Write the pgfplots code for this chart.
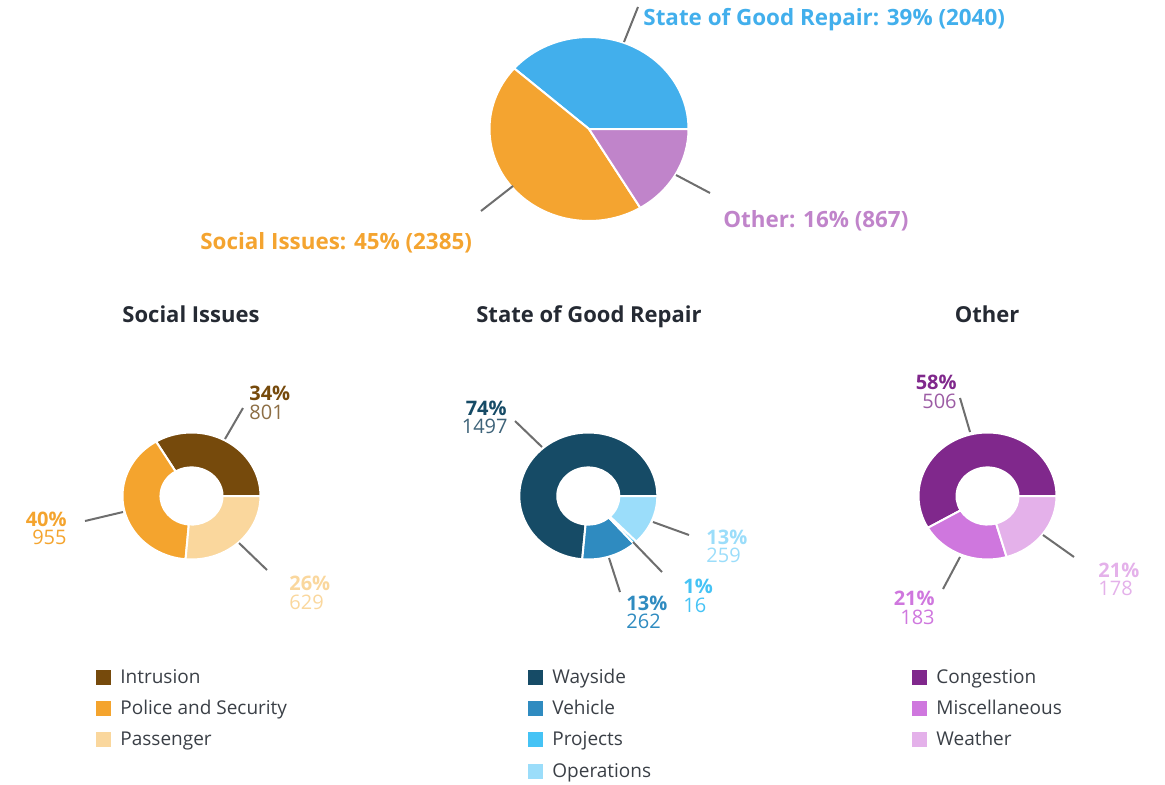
\documentclass[border=0pt]{standalone}
\usepackage{pgfplots}
\pgfplotsset{compat=1.18}
\usepackage{fontspec}
\setmainfont{Open Sans}

\definecolor{cSGR}{HTML}{42AFEC}
\definecolor{cSoc}{HTML}{F4A430}
\definecolor{cOth}{HTML}{C084CA}
\definecolor{cIntr}{HTML}{764A0C}
\definecolor{cPol}{HTML}{F4A42E}
\definecolor{cPas}{HTML}{FAD79D}
\definecolor{cWay}{HTML}{164B66}
\definecolor{cVeh}{HTML}{2F8BC0}
\definecolor{cPro}{HTML}{45C3F5}
\definecolor{cOpe}{HTML}{9BDDFA}
\definecolor{cCon}{HTML}{80288C}
\definecolor{cMis}{HTML}{CF77DE}
\definecolor{cWea}{HTML}{E4B1EA}
\definecolor{nIntr}{HTML}{8D6E45}
\definecolor{nWay}{HTML}{3E6379}
\definecolor{nCon}{HTML}{9C5CA4}
\definecolor{titlec}{HTML}{252A33}
\definecolor{legc}{HTML}{3A3F46}
\definecolor{leader}{HTML}{6E6E6E}

% data: value/colour
\def\topdata{2040/cSGR,2385/cSoc,867/cOth}
\def\socdata{801/cIntr,955/cPol,629/cPas}
\def\sgrdata{1497/cWay,262/cVeh,16/cPro,259/cOpe}
\def\othdata{506/cCon,183/cMis,178/cWea}

% #1 cx, #2 cy, #3 rx, #4 ry, #5 inner fraction (0 = pie), #6 data list macro
\newcommand\donut[6]{%
  \gdef\dtot{0}%
  \foreach \vv/\cc in #6{\pgfmathsetmacro\dtmp{\dtot+\vv}\global\let\dtot\dtmp}%
  \gdef\dcum{0}%
  \pgfmathsetmacro\rxo{#3*0.5}\pgfmathsetmacro\ryo{#4*0.5}%
  \pgfmathsetmacro\rxi{#3*#5*0.5}\pgfmathsetmacro\ryi{#4*#5*0.5}%
  \foreach \vv/\cc in #6{%
    \pgfmathsetmacro\dA{\dcum/\dtot*360}%
    \pgfmathsetmacro\dB{(\dcum+\vv)/\dtot*360}%
    \pgfmathsetmacro\xa{#1+#3*cos(\dA)}\pgfmathsetmacro\ya{#2+#4*sin(\dA)}%
    \pgfmathsetmacro\xb{#1+#3*#5*cos(\dB)}\pgfmathsetmacro\yb{#2+#4*#5*sin(\dB)}%
    \ifdim#5pt=0pt
      \edef\doit{\noexpand\fill[\cc,draw=white,line width=1pt,line join=round] (axis cs:#1,#2) -- (axis cs:\xa,\ya) arc[start angle=\dA,end angle=\dB,x radius=\rxo pt,y radius=\ryo pt] -- cycle;}%
    \else
      \edef\doit{\noexpand\fill[\cc,draw=white,line width=1pt,line join=round] (axis cs:\xa,\ya) arc[start angle=\dA,end angle=\dB,x radius=\rxo pt,y radius=\ryo pt] -- (axis cs:\xb,\yb) arc[start angle=\dB,end angle=\dA,x radius=\rxi pt,y radius=\ryi pt] -- cycle;}%
    \fi
    \doit
    \pgfmathsetmacro\dtmp{\dcum+\vv}\global\let\dcum\dtmp
  }%
}

\begin{document}
\begin{tikzpicture}
\begin{axis}[x=0.5pt,y=0.5pt,xmin=0,xmax=1165,ymin=0,ymax=784,
  hide axis,scale only axis,clip=false]
\path (axis cs:0,0) rectangle (axis cs:1165,784);
% pies
\donut{589}{655}{99.5}{92}{0}{\topdata}
\donut{191.5}{288}{69}{63.5}{0.45}{\socdata}
\donut{588.3}{288}{69}{63.5}{0.45}{\sgrdata}
\donut{987.5}{288}{69}{63.5}{0.45}{\othdata}

% leaders
\begin{scope}[leader,line width=1pt]
\draw (axis cs:624,742) -- (axis cs:638,777);
\draw (axis cs:676,609) -- (axis cs:710,591);
\draw (axis cs:513,598) -- (axis cs:481,573);
\draw (axis cs:225,345) -- (axis cs:243,376);
\draw (axis cs:85,263) -- (axis cs:123,272);
\draw (axis cs:239,241) -- (axis cs:267,214);
\draw (axis cs:515,363) -- (axis cs:542,337);
\draw (axis cs:653,262) -- (axis cs:689,249);
\draw (axis cs:633,242) -- (axis cs:662,212);
\draw (axis cs:609,226) -- (axis cs:620,192);
\draw (axis cs:960,386) -- (axis cs:970,352);
\draw (axis cs:960,227) -- (axis cs:943,195);
\draw (axis cs:1043,249) -- (axis cs:1074,227);
\end{scope}

% top labels
\begin{scope}[every node/.style={inner sep=0pt,text height=8.1pt,text depth=0pt,font=\fontsize{11.2}{13}\selectfont\bfseries}]
\node[anchor=west,text=cSGR] at (axis cs:643,767) {State of Good Repair: 39\% (2040)};
\node[anchor=west,text=cOth] at (axis cs:723,565) {Other: 16\% (867)};
\node[anchor=west,text=cSoc] at (axis cs:200,543) {Social Issues: 45\% (2385)};
\end{scope}

% titles
\begin{scope}[every node/.style={inner sep=0pt,text height=8pt,text depth=0pt,text=titlec,font=\fontsize{11}{13}\selectfont\bfseries}]
\node at (axis cs:191,470) {Social Issues};
\node at (axis cs:589,470) {State of Good Repair};
\node at (axis cs:987,470) {Other};
\end{scope}

% donut labels
\begin{scope}[every node/.style={inner sep=0pt,font=\fontsize{10}{11}\selectfont}]
\node[anchor=west,text=cIntr,font=\fontsize{10}{11}\selectfont\bfseries] at (axis cs:249,391) {34\%};
\node[anchor=west,text=nIntr] at (axis cs:249,372) {801};
\node[anchor=east,text=cPol,font=\fontsize{10}{11}\selectfont\bfseries] at (axis cs:67,265) {40\%};
\node[anchor=east,text=cPol] at (axis cs:67,247) {955};
\node[anchor=west,text=cPas,font=\fontsize{10}{11}\selectfont\bfseries] at (axis cs:289,201) {26\%};
\node[anchor=west,text=cPas] at (axis cs:289,182) {629};

\node[anchor=east,text=cWay,font=\fontsize{10}{11}\selectfont\bfseries] at (axis cs:507,376) {74\%};
\node[anchor=east,text=nWay] at (axis cs:508,358) {1497};
\node[anchor=west,text=cOpe,font=\fontsize{10}{11}\selectfont\bfseries] at (axis cs:706,247) {13\%};
\node[anchor=west,text=cOpe] at (axis cs:706,229) {259};
\node[anchor=west,text=cPro,font=\fontsize{10}{11}\selectfont\bfseries] at (axis cs:683,198) {1\%};
\node[anchor=west,text=cPro] at (axis cs:683,179) {16};
\node[anchor=west,text=cVeh,font=\fontsize{10}{11}\selectfont\bfseries] at (axis cs:626,181) {13\%};
\node[anchor=west,text=cVeh] at (axis cs:626,163) {262};

\node[anchor=east,text=cCon,font=\fontsize{10}{11}\selectfont\bfseries] at (axis cs:957,402) {58\%};
\node[anchor=east,text=nCon] at (axis cs:957,383) {506};
\node[anchor=east,text=cMis,font=\fontsize{10}{11}\selectfont\bfseries] at (axis cs:935,186) {21\%};
\node[anchor=east,text=cMis] at (axis cs:935,167) {183};
\node[anchor=west,text=cWea,font=\fontsize{10}{11}\selectfont\bfseries] at (axis cs:1098,214) {21\%};
\node[anchor=west,text=cWea] at (axis cs:1098,196) {178};
\end{scope}

% legends
\begin{scope}[every node/.style={inner sep=0pt,anchor=west,text height=6.9pt,text depth=0pt,text=legc,font=\fontsize{9.5}{11}\selectfont}]
\node at (axis cs:96,107) {\textcolor{cIntr}{\rule[-0.3pt]{7.5pt}{7.5pt}}\hspace{4.5pt}Intrusion};
\node at (axis cs:96,76) {\textcolor{cPol}{\rule[-0.3pt]{7.5pt}{7.5pt}}\hspace{4.5pt}Police and Security};
\node at (axis cs:96,45) {\textcolor{cPas}{\rule[-0.3pt]{7.5pt}{7.5pt}}\hspace{4.5pt}Passenger};
\node at (axis cs:528,107) {\textcolor{cWay}{\rule[-0.3pt]{7.5pt}{7.5pt}}\hspace{4.5pt}Wayside};
\node at (axis cs:528,76) {\textcolor{cVeh}{\rule[-0.3pt]{7.5pt}{7.5pt}}\hspace{4.5pt}Vehicle};
\node at (axis cs:528,45) {\textcolor{cPro}{\rule[-0.3pt]{7.5pt}{7.5pt}}\hspace{4.5pt}Projects};
\node at (axis cs:528,13) {\textcolor{cOpe}{\rule[-0.3pt]{7.5pt}{7.5pt}}\hspace{4.5pt}Operations};
\node at (axis cs:912,107) {\textcolor{cCon}{\rule[-0.3pt]{7.5pt}{7.5pt}}\hspace{4.5pt}Congestion};
\node at (axis cs:912,76) {\textcolor{cMis}{\rule[-0.3pt]{7.5pt}{7.5pt}}\hspace{4.5pt}Miscellaneous};
\node at (axis cs:912,45) {\textcolor{cWea}{\rule[-0.3pt]{7.5pt}{7.5pt}}\hspace{4.5pt}Weather};
\end{scope}
\end{axis}
\end{tikzpicture}
\end{document}
